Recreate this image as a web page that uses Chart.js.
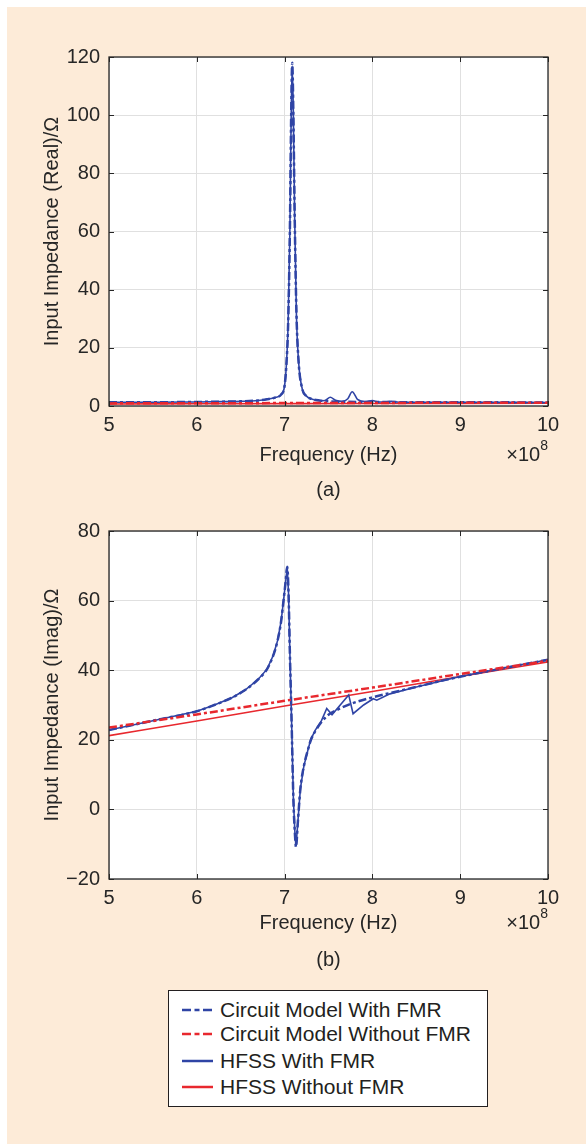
<!DOCTYPE html>
<html>
<head>
<meta charset="utf-8">
<script src="https://cdn.jsdelivr.net/npm/chart.js@4.4.1/dist/chart.umd.min.js"></script>
<style>
  html, body { margin: 0; padding: 0; background: #fff; }
  body { position: relative; width: 586px; height: 1144px; overflow: hidden; font-family: "Liberation Sans", Arial, sans-serif; }
  #page { position: absolute; left: 7px; top: 7px; right: 0; bottom: 0; background: #fdebd8; }
  canvas { position: absolute; left: 0; }
  #chartA { top: 0; }
  #chartB { top: 510px; }
  #legend { position: absolute; left: 168px; top: 990px; width: 320px; height: 117px; box-sizing: border-box;
            border: 1.5px solid #231f20; background: #fff; color: #231f20; font-size: 21px; }
  .row { position: absolute; left: 0; height: 26px; line-height: 26px; white-space: nowrap; }
  .row svg { position: absolute; left: 13px; top: 11px; }
  .row span { position: absolute; left: 51px; top: 0; }
</style>
</head>
<body>
<div id="page"></div>
<canvas id="chartA" width="586" height="510"></canvas>
<canvas id="chartB" width="586" height="470"></canvas>
<div id="legend"></div>
<script>
// frequency is in units of 1e8 Hz (axis shows x10^8)
const xTicks = [5, 6, 7, 8, 9, 10];
const realTicks = [0, 20, 40, 60, 80, 100, 120];
const imagTicks = [-20, 0, 20, 40, 60, 80];
const seriesNames = ['Circuit Model With FMR', 'Circuit Model Without FMR', 'HFSS With FMR', 'HFSS Without FMR'];

// (a) real part
const freqCircA = [5.0, 5.5, 6.0, 6.3, 6.5, 6.7, 6.8, 6.9, 6.96, 7.0, 7.02, 7.04, 7.06, 7.075, 7.087, 7.10, 7.115, 7.135, 7.16, 7.2, 7.25, 7.3, 7.4, 7.6, 8.0, 8.5, 9.0, 10.0];
const realCircWith = [1.3, 1.3, 1.4, 1.5, 1.6, 1.9, 2.3, 3.0, 3.9, 7, 14, 28, 60, 100, 118, 100, 65, 32, 15, 6, 3.4, 2.5, 1.9, 1.5, 1.4, 1.3, 1.3, 1.2];
const freqHfssA = [5.0, 5.5, 6.0, 6.3, 6.5, 6.7, 6.8, 6.9, 6.96, 7.0, 7.02, 7.04, 7.06, 7.075, 7.087, 7.10, 7.115, 7.135, 7.16, 7.2, 7.25, 7.3, 7.4, 7.46, 7.52, 7.58, 7.66, 7.72, 7.77, 7.83, 7.92, 8.0, 8.07, 8.15, 8.22, 8.3, 8.6, 9.0, 10.0];
const realHfssWith = [1.3, 1.3, 1.4, 1.5, 1.6, 1.9, 2.3, 3.0, 3.9, 7, 14, 28, 60, 100, 117, 100, 64, 31, 15, 6, 3.4, 2.5, 1.8, 1.9, 3.0, 2.0, 1.6, 2.5, 4.9, 2.3, 1.5, 1.9, 1.4, 1.4, 1.6, 1.3, 1.3, 1.3, 1.2];
const freqLinA = [5, 6, 7, 8, 9, 10];
const realCircWithout = [0.9, 0.95, 1.0, 1.05, 1.1, 1.1];
const realHfssWithout = [0.7, 0.75, 0.8, 0.85, 0.9, 0.95];

// (b) imaginary part
const freqCircB = [5.0, 5.5, 6.0, 6.2, 6.4, 6.55, 6.7, 6.8, 6.87, 6.92, 6.96, 6.99, 7.01, 7.03, 7.045, 7.06, 7.08, 7.10, 7.12, 7.13, 7.15, 7.18, 7.22, 7.27, 7.3, 7.35, 7.48, 7.6, 7.75, 8.0, 8.4, 8.9, 9.5, 10.0];
const imagCircWith = [22.8, 25.5, 28.2, 30.0, 32.1, 34.3, 37.4, 40.3, 44.2, 48.5, 54, 60.5, 65, 69.7, 62, 45, 25, 3, -8, -10.8, -4, 6, 12.5, 17.5, 20.0, 22.5, 26.8, 28.6, 30.3, 32.2, 34.6, 37.6, 40.6, 43.0];
const freqHfssB = [5.0, 5.5, 6.0, 6.2, 6.4, 6.55, 6.7, 6.8, 6.87, 6.92, 6.96, 6.99, 7.01, 7.03, 7.045, 7.06, 7.08, 7.10, 7.12, 7.13, 7.15, 7.18, 7.22, 7.27, 7.3, 7.35, 7.42, 7.48, 7.54, 7.73, 7.78, 7.9, 8.01, 8.05, 8.2, 8.5, 9.0, 9.5, 10.0];
const imagHfssWith = [22.8, 25.5, 28.2, 30.0, 32.1, 34.3, 37.4, 40.3, 44.2, 48.5, 54, 60.5, 65, 69.5, 62, 45, 25, 3, -8, -10.5, -4, 6, 12.5, 17.5, 20.2, 22.8, 25.5, 29.0, 27.2, 32.9, 27.5, 30.0, 31.8, 31.4, 33.2, 35.2, 38.2, 40.7, 43.0];
const freqLinB = [5, 6, 7, 8, 9, 10];
const imagCircWithout = [23.5, 27.3, 31.2, 35.0, 38.9, 42.7];
const imagHfssWithout = [21.2, 25.4, 29.7, 33.9, 38.2, 42.4];

const blue = '#2f44a5';
const red = '#e8282e';
const ink = '#262626';
const dashDot = [8, 3, 3, 3];

Chart.defaults.font.family = '"Liberation Sans", Arial, sans-serif';
Chart.defaults.color = ink;

function pts(xs, ys) {
  return xs.map((x, i) => ({ x: x, y: ys[i] }));
}

// white plot area, matlab style box with inward ticks, x10^8 note and caption
const boxPlugin = {
  id: 'box',
  beforeDraw(chart) {
    const a = chart.chartArea, ctx = chart.ctx;
    ctx.save();
    ctx.fillStyle = '#fff';
    ctx.fillRect(a.left, a.top, a.right - a.left, a.bottom - a.top);
    ctx.restore();
  },
  afterDatasetsDraw(chart) {
    const a = chart.chartArea, ctx = chart.ctx;
    const xs = chart.scales.x, ys = chart.scales.y;
    ctx.save();
    ctx.strokeStyle = ink;
    ctx.lineWidth = 1;
    ctx.beginPath();
    xs.ticks.forEach(t => {
      const p = Math.round(xs.getPixelForValue(t.value)) + 0.5;
      ctx.moveTo(p, a.bottom); ctx.lineTo(p, a.bottom - 5);
      ctx.moveTo(p, a.top); ctx.lineTo(p, a.top + 5);
    });
    ys.ticks.forEach(t => {
      const p = Math.round(ys.getPixelForValue(t.value)) + 0.5;
      ctx.moveTo(a.left, p); ctx.lineTo(a.left + 5, p);
      ctx.moveTo(a.right, p); ctx.lineTo(a.right - 5, p);
    });
    ctx.stroke();
    ctx.lineWidth = 1.3;
    ctx.strokeRect(a.left, a.top, a.right - a.left, a.bottom - a.top);
    ctx.restore();
  },
  afterDraw(chart, args, opts) {
    const ctx = chart.ctx, xs = chart.scales.x, a = chart.chartArea;
    const ty = xs.bottom - 12;
    ctx.save();
    ctx.fillStyle = ink;
    ctx.textBaseline = 'middle';
    ctx.textAlign = 'right';
    ctx.font = '14px "Liberation Sans", Arial, sans-serif';
    const w8 = ctx.measureText('8').width;
    ctx.fillText('8', a.right, ty - 9);
    ctx.font = '20px "Liberation Sans", Arial, sans-serif';
    ctx.fillText('\u00d710', a.right - w8, ty);
    ctx.textAlign = 'center';
    ctx.fillText(opts.caption, (a.left + a.right) / 2, opts.captionY);
    ctx.restore();
  }
};

function makeChart(id, cfg) {
  return new Chart(document.getElementById(id), {
    type: 'line',
    data: { datasets: cfg.datasets },
    options: {
      responsive: false,
      animation: false,
      layout: { padding: { top: cfg.padTop, right: 38, bottom: cfg.padBottom, left: 0 } },
      elements: { point: { radius: 0 }, line: { cubicInterpolationMode: 'monotone' } },
      plugins: {
        legend: { display: false },
        tooltip: { enabled: false },
        box: { caption: cfg.caption, captionY: cfg.captionY }
      },
      scales: {
        x: {
          type: 'linear', min: 5, max: 10,
          afterBuildTicks: s => { s.ticks = xTicks.map(v => ({ value: v })); },
          afterFit: s => { s.height = cfg.xAxisHeight; },
          grid: { color: '#e0e0e0', drawTicks: false },
          border: { display: false },
          ticks: { font: { size: 20 }, padding: 7, color: ink },
          title: { display: true, text: 'Frequency (Hz)', font: { size: 20 }, color: ink, padding: { top: 0, bottom: 0 } }
        },
        y: {
          type: 'linear', min: cfg.yTicks[0], max: cfg.yTicks[cfg.yTicks.length - 1],
          afterBuildTicks: s => { s.ticks = cfg.yTicks.map(v => ({ value: v })); },
          afterFit: s => { s.width = 109; },
          grid: { color: '#e0e0e0', drawTicks: false },
          border: { display: false },
          ticks: { font: { size: 20 }, padding: 9, color: ink, callback: v => String(v).replace('-', '\u2212') },
          title: { display: true, text: cfg.yTitle, font: { size: 20 }, color: ink, padding: { top: 40, bottom: 0 } }
        }
      }
    },
    plugins: [boxPlugin]
  });
}

// first dataset is drawn on top: red dash-dot above the blue curves
makeChart('chartA', {
  padTop: 57, padBottom: 43, xAxisHeight: 61,
  caption: '(a)', captionY: 490,
  yTicks: realTicks,
  yTitle: 'Input Impedance (Real)/\u03a9',
  datasets: [
    { label: seriesNames[1], data: pts(freqLinA, realCircWithout), borderColor: red, borderWidth: 2.5, borderDash: dashDot },
    { label: seriesNames[0], data: pts(freqCircA, realCircWith), borderColor: blue, borderWidth: 2.5, borderDash: dashDot },
    { label: seriesNames[2], data: pts(freqHfssA, realHfssWith), borderColor: blue, borderWidth: 1.6 },
    { label: seriesNames[3], data: pts(freqLinA, realHfssWithout), borderColor: red, borderWidth: 1.6 }
  ]
});

makeChart('chartB', {
  padTop: 17, padBottom: 45, xAxisHeight: 56,
  caption: '(b)', captionY: 450,
  yTicks: imagTicks,
  yTitle: 'Input Impedance (Imag)/\u03a9',
  datasets: [
    { label: seriesNames[1], data: pts(freqLinB, imagCircWithout), borderColor: red, borderWidth: 2.5, borderDash: dashDot },
    { label: seriesNames[0], data: pts(freqCircB, imagCircWith), borderColor: blue, borderWidth: 2.5, borderDash: dashDot },
    { label: seriesNames[2], data: pts(freqHfssB, imagHfssWith), borderColor: blue, borderWidth: 1.6, cubicInterpolationMode: 'default', tension: 0 },
    { label: seriesNames[3], data: pts(freqLinB, imagHfssWithout), borderColor: red, borderWidth: 1.6 }
  ]
});

// legend box under the charts
const legendRows = [
  { color: blue, dash: '9 3.5 5 3.5', y: 20 },
  { color: red, dash: '9 3.5 5 3.5', y: 44 },
  { color: blue, dash: '', y: 71 },
  { color: red, dash: '', y: 97 }
];
const legend = document.getElementById('legend');
legendRows.forEach((r, i) => {
  const row = document.createElement('div');
  row.className = 'row';
  row.style.top = (r.y - 13 - 1.5) + 'px';
  row.innerHTML = '<svg width="34" height="4"><line x1="0" y1="2" x2="31" y2="2" stroke="' + r.color +
    '" stroke-width="2.5"' + (r.dash ? ' stroke-dasharray="' + r.dash + '"' : '') + '/></svg><span></span>';
  row.querySelector('span').textContent = seriesNames[i];
  legend.appendChild(row);
});
</script>
</body>
</html>
